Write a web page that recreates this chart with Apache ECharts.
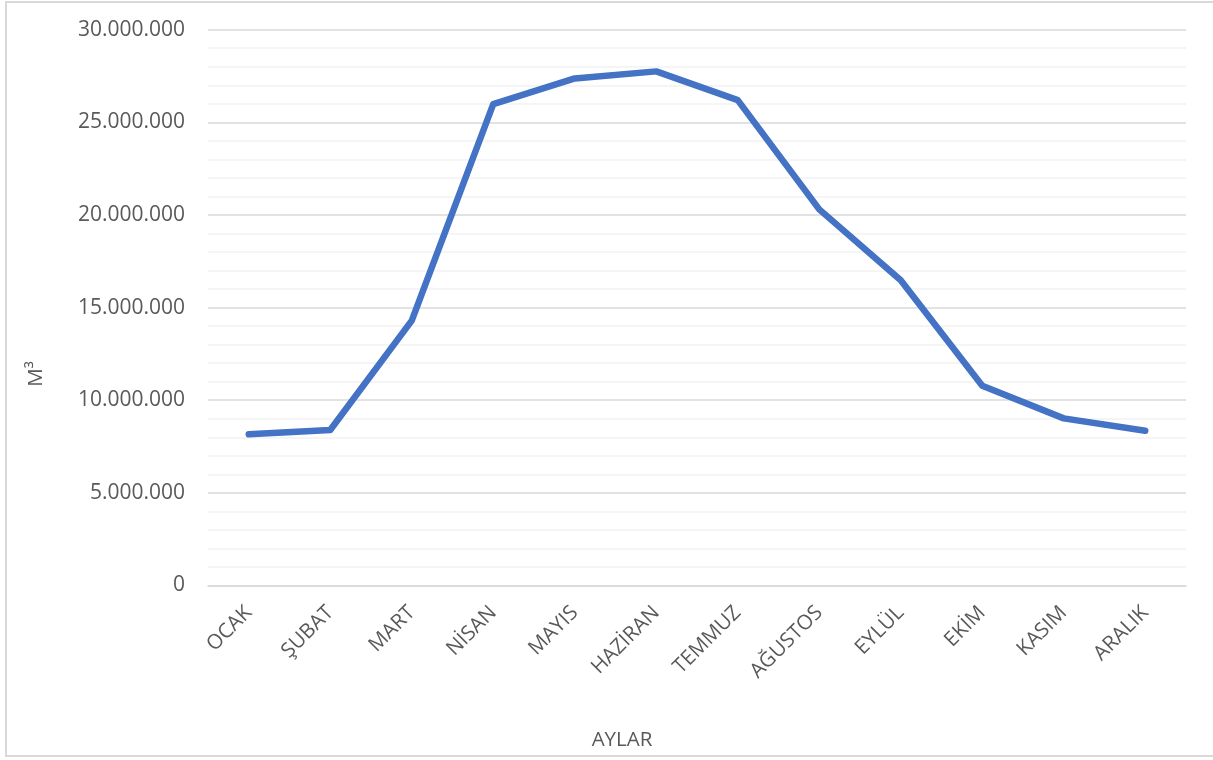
<!DOCTYPE html>
<html>
<head>
<meta charset="utf-8">
<script src="https://cdn.jsdelivr.net/npm/echarts@6/dist/echarts.min.js"></script>
<style>
  html, body { margin: 0; padding: 0; background: #fff; }
  #wrap { position: relative; width: 1213px; height: 760px; overflow: hidden; }
  #frame { position: absolute; left: 5px; top: 1px; width: 1230px; height: 756px; border: 2px solid #D9D9D9; box-sizing: border-box; }
  #chart { position: absolute; left: 0; top: 0; width: 1213px; height: 760px; }
</style>
</head>
<body>
<div id="wrap">
  <div id="frame"></div>
  <div id="chart"></div>
</div>
<script>
const months = ['OCAK', 'ŞUBAT', 'MART', 'NİSAN', 'MAYIS', 'HAZİRAN', 'TEMMUZ', 'AĞUSTOS', 'EYLÜL', 'EKİM', 'KASIM', 'ARALIK'];
const volumes = [8160000, 8390000, 14300000, 25980000, 27370000, 27750000, 26200000, 20300000, 16480000, 10780000, 9020000, 8350000];
const yAxisTitle = 'M³';
const xAxisTitle = 'AYLAR';

const fontFamily = '"Open Sans", "Noto Sans", sans-serif';
const txt = '#595959';
function fmt(v) { return String(Math.round(v)).replace(/\B(?=(\d{3})+(?!\d))/g, '.'); }

const chart = echarts.init(document.getElementById('chart'), null, { renderer: 'canvas' });
chart.setOption({
  animation: false,
  backgroundColor: 'transparent',
  textStyle: { fontFamily: fontFamily },
  grid: { left: 208, right: 27, top: 29.7, bottom: 174.5, containLabel: false },
  graphic: [
    {
      type: 'text',
      x: 622, y: 740,
      style: { text: xAxisTitle, fill: txt, font: '20.5px ' + fontFamily, align: 'center', verticalAlign: 'middle' }
    },
    {
      type: 'text',
      x: 36, y: 374,
      rotation: Math.PI / 2,
      style: { text: yAxisTitle, fill: txt, font: '20.5px ' + fontFamily, align: 'center', verticalAlign: 'middle' }
    }
  ],
  xAxis: {
    type: 'category',
    data: months,
    boundaryGap: true,
    axisLine: { show: true, lineStyle: { color: '#D9D9D9', width: 1.5 } },
    axisTick: { show: false },
    axisLabel: { rotate: 45, margin: 24, color: txt, fontSize: 20.5, fontFamily: fontFamily },
    splitLine: { show: false }
  },
  yAxis: {
    type: 'value',
    min: 0,
    max: 30000000,
    interval: 5000000,
    axisLine: { show: false },
    axisTick: { show: false },
    axisLabel: { margin: 23, color: txt, fontSize: 21, fontFamily: fontFamily, formatter: fmt },
    splitLine: { show: true, lineStyle: { color: '#D9D9D9', width: 1.5 } },
    minorTick: { show: false, splitNumber: 5 },
    minorSplitLine: { show: true, lineStyle: { color: '#F2F2F2', width: 1.5 } }
  },
  series: [{
    type: 'line',
    data: volumes,
    symbol: 'none',
    smooth: false,
    lineStyle: { color: '#4472C4', width: 6.5, cap: 'round', join: 'round' },
    itemStyle: { color: '#4472C4' }
  }]
});
</script>
</body>
</html>
